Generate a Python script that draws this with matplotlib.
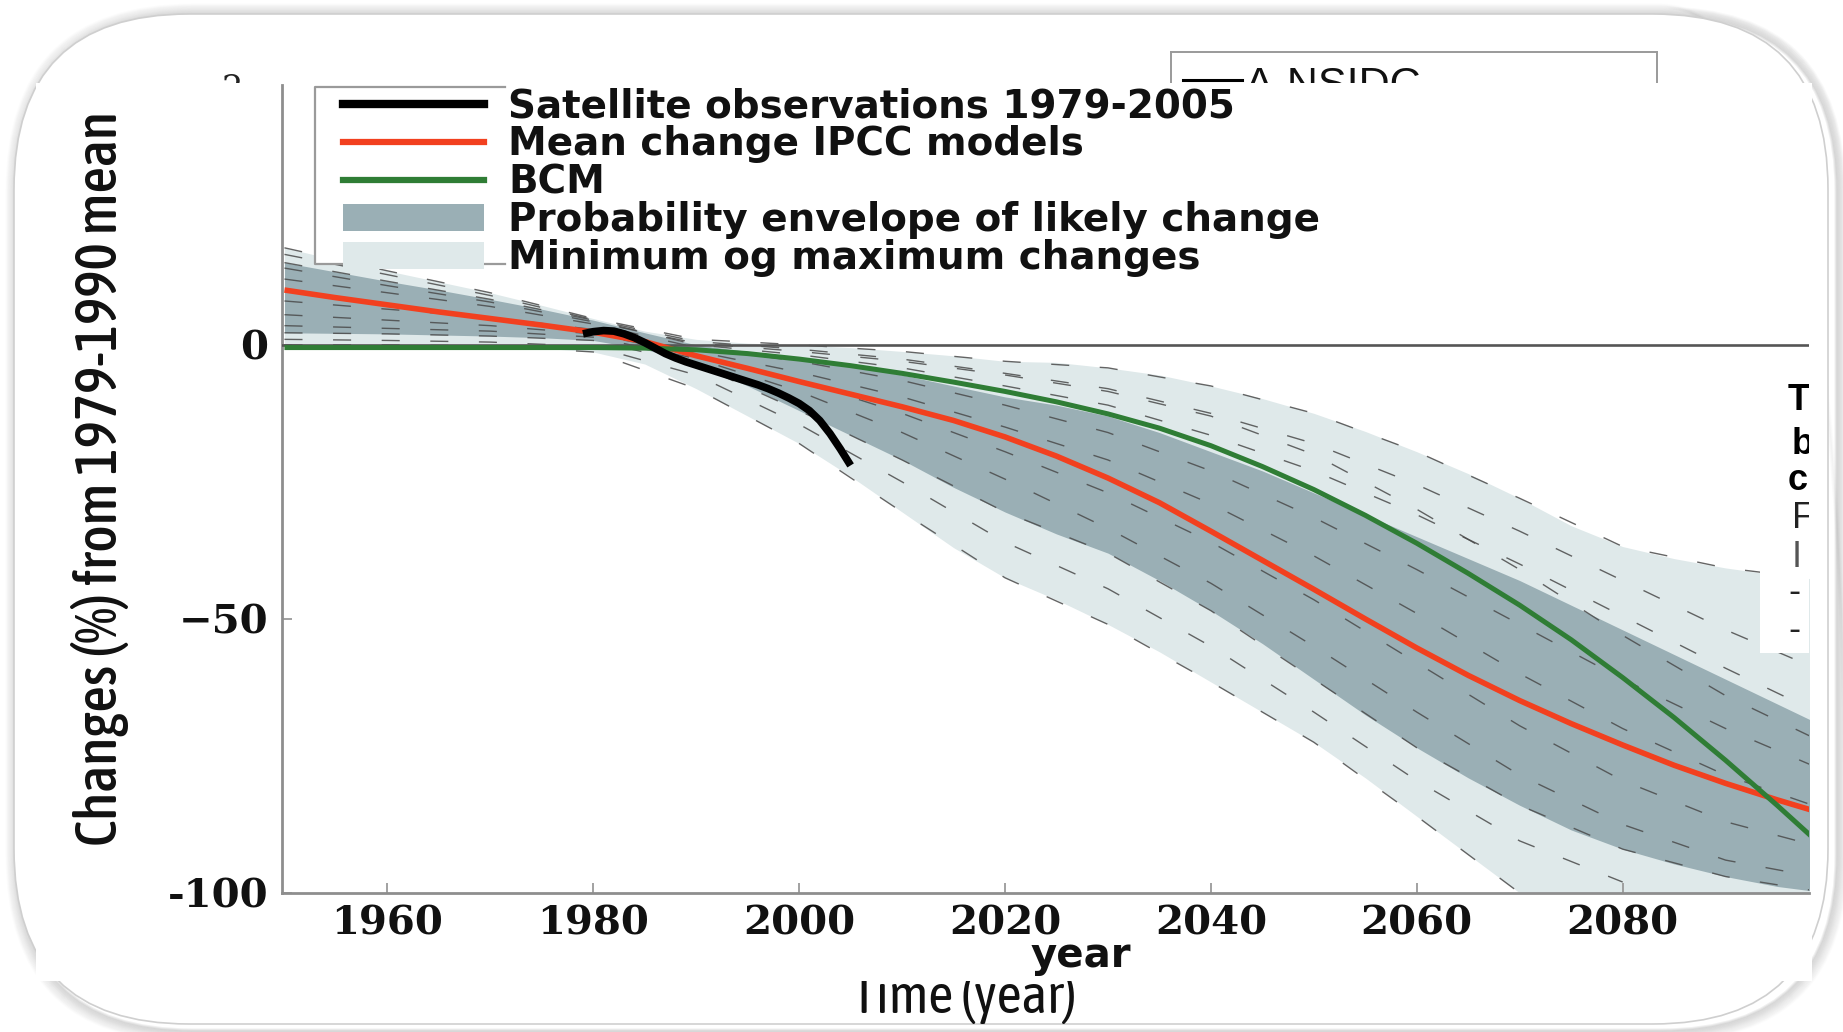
import numpy as np
import matplotlib
matplotlib.use("Agg")
import matplotlib.pyplot as plt
from matplotlib.patches import FancyBboxPatch, Rectangle, Patch
from matplotlib.lines import Line2D
from matplotlib.transforms import IdentityTransform
from matplotlib import font_manager
from matplotlib.font_manager import FontProperties

# ---------------- data ----------------
years = [1950, 1955, 1960, 1965, 1970, 1975, 1980, 1985, 1990, 1995, 2000,
         2005, 2010, 2015, 2020, 2025, 2030, 2035, 2040, 2045, 2050, 2055,
         2060, 2065, 2070, 2075, 2080, 2085, 2090, 2095, 2100]

ipcc_mean = [10.0, 8.6, 7.3, 6.0, 4.8, 3.6, 2.3, 0.6, -2.0, -4.3, -6.7,
             -9.0, -11.3, -13.8, -16.8, -20.3, -24.3, -28.8, -34.0, -39.3, -44.6, -50.0,
             -55.3, -60.3, -64.9, -69.1, -73.0, -76.7, -80.0, -83.0, -85.8]

bcm = [-0.5, -0.5, -0.5, -0.5, -0.5, -0.5, -0.5, -0.6, -0.9, -1.6, -2.6,
       -3.8, -5.2, -6.8, -8.5, -10.4, -12.6, -15.2, -18.4, -22.2, -26.4, -31.1,
       -36.2, -41.7, -47.5, -53.8, -60.7, -68.0, -75.8, -84.0, -92.5]

likely_upper = [15.0, 13.3, 11.6, 10.0, 8.3, 6.5, 4.5, 2.2, 0.0, -1.2, -2.5,
                -3.8, -5.5, -7.5, -9.5, -11.0, -13.0, -16.0, -19.5, -23.0, -27.0, -31.0,
                -35.0, -39.0, -43.0, -47.5, -52.0, -56.5, -61.0, -65.5, -70.0]

likely_lower = [2.2, 2.1, 2.0, 1.8, 1.6, 1.3, 0.8, -0.8, -3.5, -7.5, -12.0,
                -16.5, -21.0, -26.0, -30.5, -34.5, -38.0, -43.0, -48.5, -54.5, -61.0, -67.5,
                -73.5, -79.0, -84.0, -88.5, -92.0, -94.7, -97.0, -98.8, -100.0]

range_upper = [17.7, 15.5, 13.5, 11.5, 9.5, 7.2, 4.8, 2.5, 1.0, 0.3, 0.0,
               -0.5, -1.2, -2.0, -3.0, -3.2, -4.2, -5.5, -7.5, -9.8, -12.5, -15.8,
               -19.5, -23.5, -28.0, -33.0, -36.8, -39.0, -40.7, -42.0, -43.0]

range_lower = [0.0, 0.0, 0.0, -0.1, -0.2, -0.6, -1.3, -3.5, -8.0, -13.0, -18.0,
               -24.0, -30.5, -37.0, -42.5, -46.5, -51.0, -56.0, -61.5, -67.0, -72.5, -79.0,
               -86.0, -93.0, -100.0, -100.0, -100.0, -100.0, -100.0, -100.0, -100.0]

obs_years = [1979, 1980, 1981, 1982, 1983, 1984, 1985, 1986, 1987, 1988, 1989,
             1990, 1991, 1992, 1993, 1994, 1995, 1996, 1997, 1998, 1999, 2000,
             2001, 2002, 2003, 2004, 2005]
obs_values = [2.0, 2.4, 2.6, 2.5, 2.0, 1.3, 0.4, -0.6, -1.6, -2.4, -3.1,
              -3.7, -4.3, -4.9, -5.5, -6.1, -6.7, -7.3, -8.0, -8.8, -9.7, -10.7,
              -12.0, -13.8, -16.2, -19.0, -22.0]

run_years = [1950, 1960, 1970, 1980, 1990, 2000, 2010, 2020, 2030, 2040,
             2050, 2060, 2070, 2080, 2090, 2100]
nan = float("nan")
run_a = [17.7, 13.5, 9.5, 4.8, 1.0, 0.0, -1.2, -3.0, -4.2, -7.5, -12.5, -19.5, -28.0, -36.8, -40.7, -43.0]
run_b = [16.5, 12.8, 9.0, 4.6, 0.6, -0.8, -2.6, -5.2, -8.0, -12.5, -18.0, -25.5, -34.0, -43.0, -52.0, -60.0]
run_c = [15.0, 11.6, 8.3, 4.5, 0.0, -1.8, -4.2, -7.5, -11.0, -16.5, -23.0, -31.0, -40.0, -49.5, -59.0, -68.0]
run_d = [12.0, 9.5, 7.0, 3.8, -0.5, -3.0, -6.5, -11.0, -16.0, -23.0, -31.5, -41.0, -51.0, -61.0, -70.0, -78.0]
run_e = [8.0, 6.5, 5.0, 2.8, -1.2, -5.0, -9.5, -15.0, -21.0, -29.0, -38.5, -49.0, -60.0, -70.0, -78.5, -85.0]
run_f = [5.5, 4.5, 3.5, 2.0, -1.8, -6.5, -12.5, -19.5, -27.0, -36.0, -46.5, -58.0, -69.5, -79.5, -87.0, -92.0]
run_g = [3.5, 3.0, 2.5, 1.4, -2.5, -8.5, -16.0, -24.5, -33.5, -43.5, -55.0, -67.0, -78.5, -87.5, -94.0, -97.5]
run_h = [2.2, 2.0, 1.6, 0.8, -3.5, -12.0, -21.0, -30.5, -38.0, -48.5, -61.0, -73.5, -84.0, -92.0, -97.0, -100.0]
run_i = [1.0, 0.8, 0.5, -0.3, -5.5, -14.5, -25.0, -36.0, -44.5, -55.0, -67.0, -79.5, -90.5, -98.0, nan, nan]
run_j = [0.0, 0.0, -0.2, -1.3, -8.0, -18.0, -30.5, -42.5, -51.0, -61.5, -72.5, -86.0, -100.0, nan, nan, nan]
run_k = [14.0, 10.8, 7.8, 4.2, 0.3, -1.2, -3.0, -5.5, -8.5, -13.0, -20.0, -30.0, -41.0, -53.0, -64.0, -73.0]

xticks = [1960, 1980, 2000, 2020, 2040, 2060, 2080]
xtick_labels = ["1960", "1980", "2000", "2020", "2040", "2060", "2080"]
yticks = [-100, -50, 0]
ytick_labels = ["-100", "\u221250", "0"]
legend_labels = ["Satellite observations 1979-2005",
                 "Mean change IPCC models",
                 "BCM",
                 "Probability envelope of likely change",
                 "Minimum og maximum changes"]

# ---------------- styling ----------------
C_DARK = "#9aafb5"
C_LIGHT = "#dfe9ea"
C_RED = "#f2401f"
C_GREEN = "#2f7d35"
C_DASH = "#4a4a4a"

W, H, DPI = 1843, 1032, 100
fig = plt.figure(figsize=(W / DPI, H / DPI), dpi=DPI, facecolor="white")
ident = IdentityTransform()


# pick condensed sans faces if installed
def _w(f):
    try:
        return int(f.weight)
    except Exception:
        return {"normal": 400, "regular": 400, "book": 400, "medium": 500,
                "semibold": 600, "demibold": 600, "bold": 700}.get(str(f.weight).lower(), 400)


cands = []
for f in font_manager.fontManager.ttflist:
    st = str(f.stretch).lower()
    if f.style != "normal":
        continue
    nm = f.name.lower()
    if "mono" in nm or "cjk" in nm:
        continue
    if ("narrow" in nm or "condensed" in nm
            or st in ("condensed", "semi-condensed", "extra-condensed")):
        cands.append(f)
if cands:
    c_bold = sorted(cands, key=lambda f: (abs(_w(f) - 550), f.name))[0]
    same = [f for f in cands if f.name == c_bold.name] or cands
    c_reg = sorted(same, key=lambda f: (abs(_w(f) - 400), f.fname))[0]
    COND = FontProperties(fname=c_bold.fname)
    COND_REG = FontProperties(fname=c_reg.fname)
else:
    COND = FontProperties(family="DejaVu Sans")
    COND_REG = FontProperties(family="DejaVu Sans")


def disp(x0, y0, x1, y1):
    """full-pixel box (from top-left) -> display (x, y, w, h)"""
    return x0, H - y1, x1 - x0, y1 - y0


# ---- rounded card with a soft shadow ----
cx0, cy0, cx1, cy1 = 14, 14, 1828, 1024
for i in range(12):
    x, y, w, h = disp(cx0 + 4 - i, cy0 + 2 - i, cx1 + 8 + i, cy1 + 6 + i)
    fig.add_artist(FancyBboxPatch((x, y), w, h,
                                  boxstyle=f"round,pad=0,rounding_size={175 + i}",
                                  transform=ident, facecolor="none",
                                  edgecolor=(0, 0, 0, 0.06 - 0.0045 * i), lw=2.2, zorder=0.2))
x, y, w, h = disp(cx0, cy0, cx1, cy1)
fig.add_artist(FancyBboxPatch((x, y), w, h, boxstyle="round,pad=0,rounding_size=175",
                              transform=ident, facecolor="white", edgecolor="#cfcfcf",
                              lw=1.2, zorder=0.3))

# ---- fragments of an underlying figure (partly hidden) ----
nsL, nsR, nsT, nsB = 1171, 1657, 52, 130
ax_ns = fig.add_axes([nsL / W, 1 - nsB / H, (nsR - nsL) / W, (nsB - nsT) / H])
ax_ns.set_zorder(1)
ax_ns.set_xticks([]); ax_ns.set_yticks([])
for s in ax_ns.spines.values():
    s.set_color("#9a9a9a"); s.set_linewidth(1.4)
ax_ns.plot([0.025, 0.146], [0.64, 0.64], color="black", lw=2.2, transform=ax_ns.transAxes)
ax_ns.text(0.152, 0.42, "A-NSIDC", transform=ax_ns.transAxes, fontsize=31,
           family="Liberation Sans", va="baseline", ha="left", color="#111111")

fig.text(232 / W, 1 - 74 / H, "2", ha="center", va="top", fontsize=24,
         family="DejaVu Serif", color="#222222", zorder=1)

t_time = fig.text(964 / W, 1 - 997 / H, "Time (year)", ha="center", va="center",
                  fontproperties=COND_REG, color="#111111", zorder=1)
t_time.set_fontsize(30)

# ---- white chart image on top of the card ----
x, y, w, h = disp(36, 83, 1812, 981)
fig.add_artist(Rectangle((x, y), w, h, transform=ident, facecolor="white",
                         edgecolor="none", zorder=2))

# ---------------- main axes ----------------
AX_L, AX_R, AX_T, AX_B = 282.4, 1809.0, 85.0, 893.0
ax = fig.add_axes([AX_L / W, 1 - AX_B / H, (AX_R - AX_L) / W, (AX_B - AX_T) / H])
ax.set_zorder(3)
ax.patch.set_visible(False)
ax.set_xlim(1949.8, 2098.1)
ax.set_ylim(-100, 47.4)


def afr(px, py):
    return ((px - AX_L) / (AX_R - AX_L), (AX_B - py) / (AX_B - AX_T))


ax.fill_between(years, range_lower, range_upper, color=C_LIGHT, lw=0, zorder=1)
ax.fill_between(years, likely_lower, likely_upper, color=C_DARK, lw=0, zorder=2)
for run in [run_a, run_b, run_c, run_d, run_e, run_f, run_g, run_h, run_i, run_j, run_k]:
    ax.plot(run_years, run, color=C_DASH, lw=1.0, dashes=(13, 22), alpha=0.85, zorder=3)
ax.axhline(0, color="#555555", lw=1.9, zorder=3.5)
ax.plot(years, ipcc_mean, color=C_RED, lw=4.0, zorder=4, solid_capstyle="butt")
ax.plot(years, bcm, color=C_GREEN, lw=3.6, zorder=4.5, solid_capstyle="butt")
ax.plot(obs_years, obs_values, color="black", lw=5.5, zorder=5, solid_capstyle="butt")

for side in ["top", "right"]:
    ax.spines[side].set_visible(False)
for side in ["left", "bottom"]:
    ax.spines[side].set_color("#8e8e8e")
    ax.spines[side].set_linewidth(2.0)

tick_font = dict(family="DejaVu Serif", weight="bold", size=29)
ax.set_xticks(xticks)
ax.set_xticklabels(xtick_labels, **tick_font)
ax.set_yticks(yticks)
ax.set_yticklabels(ytick_labels, **tick_font)
ax.tick_params(axis="both", direction="in", length=7, width=1.3, color="#9a9a9a",
               labelcolor="#111111")
ax.tick_params(axis="x", pad=8)
ax.tick_params(axis="y", pad=10)

ax.set_xlabel("year", family="DejaVu Sans", weight="bold", fontsize=29, color="#111111")
ax.xaxis.set_label_coords(*afr(1081, 956))
ax.xaxis.label.set_va("center")

ax.set_ylabel("Changes (%) from 1979-1990 mean", fontproperties=COND, color="#111111")
ax.yaxis.label.set_fontsize(40)
ax.yaxis.set_label_coords(*afr(100, 479))
ax.yaxis.label.set_va("center")

# ---- legend ----
F = 28
Fpx = F * DPI / 72.0
lx0, ly0 = afr(315, 87)
lx1, ly1 = afr(505, 264)
ax.add_patch(Rectangle((lx0, ly1), lx1 - lx0, ly0 - ly1, transform=ax.transAxes,
                       facecolor="white", edgecolor="none", zorder=8, clip_on=False))
fx_, fy_ = zip(afr(505, 87), afr(315, 87), afr(315, 264), afr(505, 264))
ax.add_line(Line2D(fx_, fy_, transform=ax.transAxes, color="#9a9a9a", lw=1.6,
                   zorder=9, clip_on=False))
handles = [Line2D([], [], color="black", lw=6),
           Line2D([], [], color=C_RED, lw=4.5),
           Line2D([], [], color=C_GREEN, lw=4.5),
           Patch(facecolor=C_DARK, edgecolor="none"),
           Patch(facecolor=C_LIGHT, edgecolor="none")]
leg = ax.legend(handles, legend_labels, loc="upper left", bbox_to_anchor=afr(343, 87),
                bbox_transform=ax.transAxes, frameon=False, borderpad=0, borderaxespad=0,
                handlelength=141 / Fpx, handleheight=26 / Fpx, handletextpad=24 / Fpx,
                labelspacing=0.0,
                prop=dict(family="DejaVu Sans", weight="bold", size=F))
leg.set_zorder(10)
for t in leg.get_texts():
    t.set_color("#111111")

# ---- partially visible side panel on the right ----
ovL, ovR, ovT, ovB = 1760, 1809, 372, 653
ax_ov = fig.add_axes([ovL / W, 1 - ovB / H, (ovR - ovL) / W, (ovB - ovT) / H])
ax_ov.set_zorder(4)
ax_ov.set_facecolor("white")
ax_ov.set_xticks([]); ax_ov.set_yticks([])
for s in ax_ov.spines.values():
    s.set_visible(False)


def ofr(px, py):
    return ((px - ovL) / (ovR - ovL), (ovB - py) / (ovB - ovT))


for ch, px, py, wgt, col in [("T", 1788, 410, "bold", "#000000"),
                             ("b", 1792, 454, "bold", "#000000"),
                             ("c", 1788, 490, "bold", "#000000"),
                             ("F", 1792, 528, "normal", "#222222"),
                             ("I", 1792, 567, "normal", "#555555"),
                             ("-", 1788, 602, "normal", "#222222"),
                             ("-", 1788, 640, "normal", "#222222")]:
    ax_ov.text(*ofr(px, py), ch, transform=ax_ov.transAxes, fontsize=26,
               family="Liberation Sans", weight=wgt, color=col, ha="left",
               va="baseline", clip_on=True)

# ---- fit text lengths to the reference ----
fig.canvas.draw()
r = fig.canvas.get_renderer()
yl = ax.yaxis.label
bb = yl.get_window_extent(renderer=r)
yl.set_fontsize(yl.get_fontsize() * 734.0 / bb.height)
bb = t_time.get_window_extent(renderer=r)
t_time.set_fontsize(t_time.get_fontsize() * 225.0 / bb.width)

fig.savefig("out.png", dpi=DPI, facecolor="white")
